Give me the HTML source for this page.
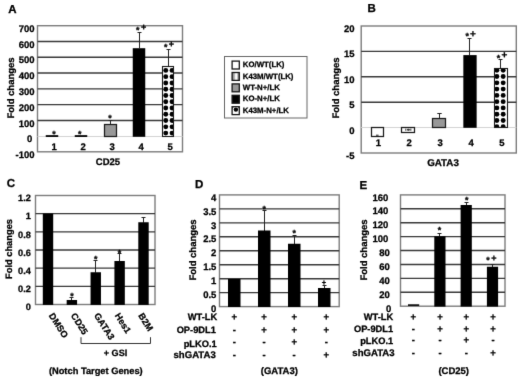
<!DOCTYPE html>
<html><head><meta charset="utf-8"><title>Figure</title>
<style>
html,body{margin:0;padding:0;background:#fff;}
body{width:520px;height:380px;overflow:hidden;}
svg{display:block;font-family:"Liberation Sans",sans-serif;font-weight:bold;fill:#000;text-rendering:geometricPrecision;}
text{stroke:#000;stroke-width:0.28px;}
</style></head><body>
<svg width="520" height="380" viewBox="0 0 520 380">
<defs>
<pattern id="dots" width="5.5" height="5.3" patternUnits="userSpaceOnUse" x="0" y="0">
<rect width="5.5" height="5.3" fill="#fff"/><circle cx="2.75" cy="2.65" r="2.1" fill="#000"/>
</pattern>
<linearGradient id="vgrad" x1="0" x2="1" y1="0" y2="0"><stop offset="0" stop-color="#888"/><stop offset="0.3" stop-color="#aaa"/><stop offset="0.5" stop-color="#fff"/><stop offset="0.68" stop-color="#fff"/><stop offset="0.8" stop-color="#999"/><stop offset="1" stop-color="#888"/></linearGradient>
<pattern id="vstripe" width="4" height="4" patternUnits="userSpaceOnUse">
<rect width="4" height="4" fill="#fff"/><rect x="1" width="1.6" height="4" fill="#555"/>
</pattern>
<filter id="soft" x="0" y="0" width="520" height="380" filterUnits="userSpaceOnUse" color-interpolation-filters="sRGB"><feConvolveMatrix order="3" kernelMatrix="0.0074 0.0713 0.0074 0.0713 0.6853 0.0713 0.0074 0.0713 0.0074" edgeMode="duplicate" preserveAlpha="true"/></filter>
</defs>
<g filter="url(#soft)">
<rect width="520" height="380" fill="#fff"/>
<text x="8.2" y="13" font-size="11.5" text-anchor="start" >A</text>
<rect x="37.5" y="25.7" width="145.0" height="126.10000000000001" fill="#fff" stroke="#7c7c7c" stroke-width="1.4"/>
<line x1="37.5" x2="182.5" y1="41.489999999999995" y2="41.489999999999995" stroke="#383838" stroke-width="1.4"/>
<line x1="37.5" x2="182.5" y1="57.28" y2="57.28" stroke="#383838" stroke-width="1.4"/>
<line x1="37.5" x2="182.5" y1="73.07" y2="73.07" stroke="#383838" stroke-width="1.4"/>
<line x1="37.5" x2="182.5" y1="88.86" y2="88.86" stroke="#383838" stroke-width="1.4"/>
<line x1="37.5" x2="182.5" y1="104.64999999999999" y2="104.64999999999999" stroke="#383838" stroke-width="1.4"/>
<line x1="37.5" x2="182.5" y1="120.44" y2="120.44" stroke="#383838" stroke-width="1.4"/>
<line x1="37.5" x2="182.5" y1="136.5" y2="136.5" stroke="#d4d4d4" stroke-width="1"/>
<text x="34.6" y="31.799999999999997" font-size="9.5" text-anchor="end" >700</text>
<text x="34.6" y="47.589999999999996" font-size="9.5" text-anchor="end" >600</text>
<text x="34.6" y="63.38" font-size="9.5" text-anchor="end" >500</text>
<text x="34.6" y="79.16999999999999" font-size="9.5" text-anchor="end" >400</text>
<text x="34.6" y="94.96" font-size="9.5" text-anchor="end" >300</text>
<text x="34.6" y="110.74999999999999" font-size="9.5" text-anchor="end" >200</text>
<text x="34.6" y="126.53999999999999" font-size="9.5" text-anchor="end" >100</text>
<text x="32.4" y="142.32999999999998" font-size="9.5" text-anchor="end" >0</text>
<text x="34.6" y="158.11999999999998" font-size="9.5" text-anchor="end" >-100</text>
<text transform="translate(13.8,88) rotate(-90)" font-size="9.5" text-anchor="middle">Fold changes</text>
<rect x="45.75" y="135.15" width="12.50" height="1.80" fill="#000"/>
<rect x="74.75" y="135.15" width="12.50" height="1.80" fill="#000"/>
<path d="M110.5 124.1838V120.5M108.5 120.5H112.5" stroke="#222" stroke-width="1" fill="none"/>
<rect x="104.50" y="124.50" width="12.00" height="12.00" fill="#989898" stroke="#1a1a1a" stroke-width="1.25"/>
<path d="M139.5 48.2V32.5M137.5 32.5H141.5" stroke="#222" stroke-width="1" fill="none"/>
<rect x="132.75" y="48.20" width="12.50" height="88.60" fill="#000"/>
<path d="M168.5 66.5V49.5M166.5 49.5H170.5" stroke="#222" stroke-width="1" fill="none"/>
<clipPath id="c1"><rect x="162.00" y="66.00" width="12.00" height="71.00"/></clipPath>
<rect x="162.00" y="66.00" width="12.00" height="71.00" fill="#fff"/>
<g clip-path="url(#c1)" fill="#000">
<circle cx="165.75" cy="70.40" r="2.45"/>
<circle cx="172.05" cy="70.40" r="2.45"/>
<circle cx="165.75" cy="76.67" r="2.45"/>
<circle cx="172.05" cy="76.67" r="2.45"/>
<circle cx="165.75" cy="82.94" r="2.45"/>
<circle cx="172.05" cy="82.94" r="2.45"/>
<circle cx="165.75" cy="89.21" r="2.45"/>
<circle cx="172.05" cy="89.21" r="2.45"/>
<circle cx="165.75" cy="95.48" r="2.45"/>
<circle cx="172.05" cy="95.48" r="2.45"/>
<circle cx="165.75" cy="101.75" r="2.45"/>
<circle cx="172.05" cy="101.75" r="2.45"/>
<circle cx="165.75" cy="108.02" r="2.45"/>
<circle cx="172.05" cy="108.02" r="2.45"/>
<circle cx="165.75" cy="114.29" r="2.45"/>
<circle cx="172.05" cy="114.29" r="2.45"/>
<circle cx="165.75" cy="120.56" r="2.45"/>
<circle cx="172.05" cy="120.56" r="2.45"/>
<circle cx="165.75" cy="126.83" r="2.45"/>
<circle cx="172.05" cy="126.83" r="2.45"/>
<circle cx="165.75" cy="133.10" r="2.45"/>
<circle cx="172.05" cy="133.10" r="2.45"/>
<circle cx="165.75" cy="139.37" r="2.45"/>
<circle cx="172.05" cy="139.37" r="2.45"/>
</g>
<rect x="162.50" y="66.50" width="11.00" height="70.00" fill="none" stroke="#1a1a1a" stroke-width="1.1"/>
<text x="54.1" y="149.7" font-size="9.5" text-anchor="middle" >1</text>
<text x="83.1" y="149.7" font-size="9.5" text-anchor="middle" >2</text>
<text x="112.1" y="149.7" font-size="9.5" text-anchor="middle" >3</text>
<text x="141.1" y="149.7" font-size="9.5" text-anchor="middle" >4</text>
<text x="170.1" y="149.7" font-size="9.5" text-anchor="middle" >5</text>
<text x="108" y="164.6" font-size="9.5" text-anchor="middle" >CD25</text>
<text x="54.04" y="136.99" font-size="8.8" text-anchor="middle" stroke="#000" stroke-width="0.25">*</text>
<text x="79.84" y="136.99" font-size="8.8" text-anchor="middle" stroke="#000" stroke-width="0.25">*</text>
<text x="110.04" y="121.29" font-size="8.8" text-anchor="middle" stroke="#000" stroke-width="0.25">*</text>
<text x="137.74" y="32.79" font-size="8.8" text-anchor="middle" stroke="#000" stroke-width="0.25">*</text>
<text x="143.54" y="29.96" font-size="9" text-anchor="middle" >+</text>
<text x="165.84" y="49.99" font-size="8.8" text-anchor="middle" stroke="#000" stroke-width="0.25">*</text>
<text x="171.34" y="47.26" font-size="9" text-anchor="middle" >+</text>
<rect x="224.5" y="56.5" width="82.5" height="61.5" fill="#fff" stroke="#666" stroke-width="1"/>
<rect x="232.1" y="61.10" width="7.2" height="7.9" fill="#fff" stroke="#161616" stroke-width="1.3"/>
<text x="242.8" y="67.1" font-size="7.8" text-anchor="start" >KO/WT(LK)</text>
<rect x="232.1" y="72.50" width="7.2" height="7.9" fill="url(#vgrad)" stroke="#161616" stroke-width="1.3"/>
<text x="242.8" y="78.5" font-size="7.8" text-anchor="start" >K43M/WT(LK)</text>
<rect x="232.1" y="83.90" width="7.2" height="7.9" fill="#989898" stroke="#161616" stroke-width="1.3"/>
<text x="242.8" y="89.9" font-size="7.8" text-anchor="start" >WT-N+/LK</text>
<rect x="232.1" y="95.30" width="7.2" height="7.9" fill="#000" stroke="#161616" stroke-width="1.3"/>
<text x="242.8" y="101.3" font-size="7.8" text-anchor="start" >KO-N+/LK</text>
<rect x="232.1" y="106.70" width="7.2" height="7.9" fill="#fff"/>
<circle cx="235.9" cy="109.60" r="2.2" fill="#000"/>
<path d="M232.1 107.20h1.6l-1.6 1.8zM239.3 107.20h-1.3l1.3 1.8z" fill="#000"/>
<rect x="232.1" y="106.70" width="7.2" height="7.9" fill="none" stroke="#161616" stroke-width="1.3"/>
<text x="242.8" y="112.7" font-size="7.8" text-anchor="start" >K43M-N+/LK</text>
<text x="367.5" y="12" font-size="11.5" text-anchor="start" >B</text>
<rect x="361.2" y="26" width="155.09999999999997" height="127" fill="#fff" stroke="#7c7c7c" stroke-width="1.4"/>
<line x1="361.2" x2="516.3" y1="51.4" y2="51.4" stroke="#383838" stroke-width="1.4"/>
<line x1="361.2" x2="516.3" y1="76.8" y2="76.8" stroke="#383838" stroke-width="1.4"/>
<line x1="361.2" x2="516.3" y1="102.19999999999999" y2="102.19999999999999" stroke="#383838" stroke-width="1.4"/>
<line x1="361.2" x2="516.3" y1="127.5" y2="127.5" stroke="#d4d4d4" stroke-width="1"/>
<text x="354.5" y="31.9" font-size="9.5" text-anchor="end" >20</text>
<text x="354.5" y="57.3" font-size="9.5" text-anchor="end" >15</text>
<text x="354.5" y="82.7" font-size="9.5" text-anchor="end" >10</text>
<text x="354.5" y="108.1" font-size="9.5" text-anchor="end" >5</text>
<text x="354.5" y="133.5" font-size="9.5" text-anchor="end" >0</text>
<text x="354.5" y="158.9" font-size="9.5" text-anchor="end" >-5</text>
<text transform="translate(339.3,88) rotate(-90)" font-size="9.5" text-anchor="middle">Fold changes</text>
<rect x="371.50" y="127.50" width="12.00" height="9.00" fill="#fff" stroke="#1a1a1a" stroke-width="1.25"/>
<rect x="376.0" y="134.7" width="2.6" height="1" fill="#222"/>
<rect x="401.50" y="127.50" width="13.00" height="5.00" fill="#fff" stroke="#1a1a1a" stroke-width="1.25"/>
<path d="M405.83 128.6v2.2M410.83 128.6v2.2M407.53 129.2h1.8v1h-1.8z" stroke="#333" stroke-width="1" fill="#333"/>
<path d="M439.5 118.5V113.5M437.3 113.5H441.7" stroke="#222" stroke-width="1" fill="none"/>
<rect x="432.50" y="118.50" width="13.00" height="9.00" fill="#989898" stroke="#1a1a1a" stroke-width="1.25"/>
<path d="M469.5 55.1V38.5M467.5 38.5H471.5" stroke="#222" stroke-width="1" fill="none"/>
<rect x="463.34" y="55.10" width="13.30" height="72.70" fill="#000"/>
<path d="M500.5 68.6V59.5M498.5 59.5H502.5" stroke="#222" stroke-width="1" fill="none"/>
<clipPath id="c2"><rect x="494.00" y="68.00" width="14.00" height="60.00"/></clipPath>
<rect x="494.00" y="68.00" width="14.00" height="60.00" fill="#fff"/>
<g clip-path="url(#c2)" fill="#000">
<circle cx="496.87" cy="70.30" r="2.45"/>
<circle cx="503.17" cy="70.30" r="2.45"/>
<circle cx="496.87" cy="76.57" r="2.45"/>
<circle cx="503.17" cy="76.57" r="2.45"/>
<circle cx="496.87" cy="82.84" r="2.45"/>
<circle cx="503.17" cy="82.84" r="2.45"/>
<circle cx="496.87" cy="89.11" r="2.45"/>
<circle cx="503.17" cy="89.11" r="2.45"/>
<circle cx="496.87" cy="95.38" r="2.45"/>
<circle cx="503.17" cy="95.38" r="2.45"/>
<circle cx="496.87" cy="101.65" r="2.45"/>
<circle cx="503.17" cy="101.65" r="2.45"/>
<circle cx="496.87" cy="107.92" r="2.45"/>
<circle cx="503.17" cy="107.92" r="2.45"/>
<circle cx="496.87" cy="114.19" r="2.45"/>
<circle cx="503.17" cy="114.19" r="2.45"/>
<circle cx="496.87" cy="120.46" r="2.45"/>
<circle cx="503.17" cy="120.46" r="2.45"/>
<circle cx="496.87" cy="126.73" r="2.45"/>
<circle cx="503.17" cy="126.73" r="2.45"/>
</g>
<rect x="494.50" y="68.50" width="13.00" height="59.00" fill="none" stroke="#1a1a1a" stroke-width="1.1"/>
<text x="378.3" y="145.8" font-size="9.5" text-anchor="middle" >1</text>
<text x="409.23" y="145.8" font-size="9.5" text-anchor="middle" >2</text>
<text x="440.16" y="145.8" font-size="9.5" text-anchor="middle" >3</text>
<text x="471.09000000000003" y="145.8" font-size="9.5" text-anchor="middle" >4</text>
<text x="502.02" y="145.8" font-size="9.5" text-anchor="middle" >5</text>
<text x="443" y="165.8" font-size="9.8" text-anchor="middle" >GATA3</text>
<text x="467.24" y="39.39" font-size="8.8" text-anchor="middle" stroke="#000" stroke-width="0.25">*</text>
<text x="472.85" y="37.25" font-size="10" text-anchor="middle" >+</text>
<text x="498.54" y="60.69" font-size="8.8" text-anchor="middle" stroke="#000" stroke-width="0.25">*</text>
<text x="504.35" y="58.0" font-size="10" text-anchor="middle" >+</text>
<text x="6.8" y="187" font-size="11.5" text-anchor="start" >C</text>
<rect x="35.5" y="195.5" width="119.5" height="109.0" fill="#fff" stroke="#7c7c7c" stroke-width="1.4"/>
<line x1="35.5" x2="155" y1="213.66666666666666" y2="213.66666666666666" stroke="#383838" stroke-width="1.4"/>
<line x1="35.5" x2="155" y1="231.83333333333334" y2="231.83333333333334" stroke="#383838" stroke-width="1.4"/>
<line x1="35.5" x2="155" y1="250.0" y2="250.0" stroke="#383838" stroke-width="1.4"/>
<line x1="35.5" x2="155" y1="268.1666666666667" y2="268.1666666666667" stroke="#383838" stroke-width="1.4"/>
<line x1="35.5" x2="155" y1="286.33333333333337" y2="286.33333333333337" stroke="#383838" stroke-width="1.4"/>
<text x="30.8" y="201.2" font-size="9.2" text-anchor="end" >1.2</text>
<text x="30.8" y="219.36666666666665" font-size="9.2" text-anchor="end" >1</text>
<text x="30.8" y="237.53333333333333" font-size="9.2" text-anchor="end" >0.8</text>
<text x="30.8" y="255.7" font-size="9.2" text-anchor="end" >0.6</text>
<text x="30.8" y="273.8666666666667" font-size="9.2" text-anchor="end" >0.4</text>
<text x="30.8" y="292.03333333333336" font-size="9.2" text-anchor="end" >0.2</text>
<text x="30.8" y="310.2" font-size="9.2" text-anchor="end" >0</text>
<text transform="translate(11.5,249) rotate(-90)" font-size="9.3" text-anchor="middle">Fold changes</text>
<rect x="42.80" y="213.50" width="10.40" height="91.40" fill="#000"/>
<path d="M71.5 300.5V297.5M69.5 297.5H73.5" stroke="#222" stroke-width="1" fill="none"/>
<rect x="66.67" y="300.00" width="10.40" height="4.90" fill="#000"/>
<path d="M95.5 272.75V260.5M93.5 260.5H97.5" stroke="#222" stroke-width="1" fill="none"/>
<rect x="90.55" y="272.25" width="10.40" height="32.65" fill="#000"/>
<path d="M119.5 261.5V253.5M117.5 253.5H121.5" stroke="#222" stroke-width="1" fill="none"/>
<rect x="114.42" y="261.00" width="10.40" height="43.90" fill="#000"/>
<path d="M143.5 222.75V217.5M141.5 217.5H145.5" stroke="#222" stroke-width="1" fill="none"/>
<rect x="138.30" y="222.25" width="10.40" height="82.65" fill="#000"/>
<text x="72.04" y="298.74" font-size="8.8" text-anchor="middle" stroke="#000" stroke-width="0.25">*</text>
<text x="95.79" y="261.74" font-size="8.8" text-anchor="middle" stroke="#000" stroke-width="0.25">*</text>
<text x="119.54" y="255.99" font-size="8.8" text-anchor="middle" stroke="#000" stroke-width="0.25">*</text>
<text transform="translate(48.599999999999994,315.6) rotate(57.5)" font-size="9.1">DMSO</text>
<text transform="translate(70.6,315.6) rotate(57.5)" font-size="9.1">CD25</text>
<text transform="translate(93.8,315.6) rotate(57.5)" font-size="9.1">GATA3</text>
<text transform="translate(114.5,315.6) rotate(57.5)" font-size="9.1">Hes1</text>
<text transform="translate(137.9,315.6) rotate(57.5)" font-size="9.1">B2M</text>
<path d="M81 337.2V343.5H150.5V337.2" stroke="#333" stroke-width="1" fill="none"/>
<text x="127.3" y="356.2" font-size="9.1" text-anchor="end" >+ GSI</text>
<text x="95.8" y="374.1" font-size="9.3" text-anchor="middle" >(Notch Target Genes)</text>
<text x="195" y="187.7" font-size="11.5" text-anchor="start" >D</text>
<rect x="219.5" y="194.9" width="119.69999999999999" height="111.70000000000002" fill="#fff" stroke="#7c7c7c" stroke-width="1.4"/>
<line x1="219.5" x2="339.2" y1="208.8625" y2="208.8625" stroke="#383838" stroke-width="1.4"/>
<line x1="219.5" x2="339.2" y1="222.82500000000002" y2="222.82500000000002" stroke="#383838" stroke-width="1.4"/>
<line x1="219.5" x2="339.2" y1="236.78750000000002" y2="236.78750000000002" stroke="#383838" stroke-width="1.4"/>
<line x1="219.5" x2="339.2" y1="250.75" y2="250.75" stroke="#383838" stroke-width="1.4"/>
<line x1="219.5" x2="339.2" y1="264.71250000000003" y2="264.71250000000003" stroke="#383838" stroke-width="1.4"/>
<line x1="219.5" x2="339.2" y1="278.675" y2="278.675" stroke="#383838" stroke-width="1.4"/>
<line x1="219.5" x2="339.2" y1="292.63750000000005" y2="292.63750000000005" stroke="#383838" stroke-width="1.4"/>
<text x="216.4" y="200.6" font-size="9.5" text-anchor="end" >4</text>
<text x="216.4" y="214.5625" font-size="9.5" text-anchor="end" >3.5</text>
<text x="216.4" y="228.525" font-size="9.5" text-anchor="end" >3</text>
<text x="216.4" y="242.4875" font-size="9.5" text-anchor="end" >2.5</text>
<text x="216.4" y="256.45" font-size="9.5" text-anchor="end" >2</text>
<text x="216.4" y="270.4125" font-size="9.5" text-anchor="end" >1.5</text>
<text x="216.4" y="284.375" font-size="9.5" text-anchor="end" >1</text>
<text x="216.4" y="298.33750000000003" font-size="9.5" text-anchor="end" >0.5</text>
<text x="216.4" y="312.3" font-size="9.5" text-anchor="end" >0</text>
<text transform="translate(196.3,250) rotate(-90)" font-size="9.5" text-anchor="middle">Fold changes</text>
<rect x="228.00" y="279.00" width="12.50" height="28.00" fill="#000"/>
<path d="M264.5 231.0V210.5M262.5 210.5H266.5" stroke="#222" stroke-width="1" fill="none"/>
<rect x="258.00" y="230.50" width="12.50" height="76.50" fill="#000"/>
<path d="M294.5 244.25V235.5M292.5 235.5H296.5" stroke="#222" stroke-width="1" fill="none"/>
<rect x="288.00" y="243.75" width="12.50" height="63.25" fill="#000"/>
<path d="M324.5 288.5V285.5M322.5 285.5H326.5" stroke="#222" stroke-width="1" fill="none"/>
<rect x="318.00" y="288.00" width="12.50" height="19.00" fill="#000"/>
<text x="264.29" y="211.79" font-size="8.8" text-anchor="middle" stroke="#000" stroke-width="0.25">*</text>
<text x="294.29" y="235.99" font-size="8.8" text-anchor="middle" stroke="#000" stroke-width="0.25">*</text>
<text x="323.94" y="284.55" font-size="7.5" text-anchor="middle" >+</text>
<text x="217.2" y="320.3" font-size="9.3" text-anchor="end" >WT-LK</text>
<text x="234.29999999999998" y="320.1" font-size="9.5" text-anchor="middle" >+</text>
<text x="264.0" y="320.1" font-size="9.5" text-anchor="middle" >+</text>
<text x="294.2" y="320.1" font-size="9.5" text-anchor="middle" >+</text>
<text x="326.4" y="320.1" font-size="9.5" text-anchor="middle" >+</text>
<text x="215.9" y="333.4" font-size="9.3" text-anchor="end" >OP-9DL1</text>
<text x="234.29999999999998" y="333.2" font-size="9.5" text-anchor="middle" >-</text>
<text x="264.0" y="333.2" font-size="9.5" text-anchor="middle" >+</text>
<text x="294.2" y="333.2" font-size="9.5" text-anchor="middle" >+</text>
<text x="326.4" y="333.2" font-size="9.5" text-anchor="middle" >+</text>
<text x="216.7" y="346.7" font-size="9.3" text-anchor="end" >pLKO.1</text>
<text x="234.29999999999998" y="345.2" font-size="9.5" text-anchor="middle" >-</text>
<text x="264.0" y="345.2" font-size="9.5" text-anchor="middle" >-</text>
<text x="294.2" y="345.2" font-size="9.5" text-anchor="middle" >+</text>
<text x="326.4" y="345.2" font-size="9.5" text-anchor="middle" >-</text>
<text x="215.8" y="358.2" font-size="9.6" text-anchor="end" >shGATA3</text>
<text x="234.29999999999998" y="358.0" font-size="9.5" text-anchor="middle" >-</text>
<text x="264.0" y="358.0" font-size="9.5" text-anchor="middle" >-</text>
<text x="294.2" y="358.0" font-size="9.5" text-anchor="middle" >-</text>
<text x="326.4" y="358.0" font-size="9.5" text-anchor="middle" >+</text>
<text x="279.3" y="374.3" font-size="9.5" text-anchor="middle" >(GATA3)</text>
<text x="359.5" y="189" font-size="11.5" text-anchor="start" >E</text>
<rect x="400.5" y="194.9" width="104.5" height="111.29999999999998" fill="#fff" stroke="#7c7c7c" stroke-width="1.4"/>
<line x1="400.5" x2="505" y1="208.8125" y2="208.8125" stroke="#383838" stroke-width="1.4"/>
<line x1="400.5" x2="505" y1="222.725" y2="222.725" stroke="#383838" stroke-width="1.4"/>
<line x1="400.5" x2="505" y1="236.6375" y2="236.6375" stroke="#383838" stroke-width="1.4"/>
<line x1="400.5" x2="505" y1="250.55" y2="250.55" stroke="#383838" stroke-width="1.4"/>
<line x1="400.5" x2="505" y1="264.4625" y2="264.4625" stroke="#383838" stroke-width="1.4"/>
<line x1="400.5" x2="505" y1="278.375" y2="278.375" stroke="#383838" stroke-width="1.4"/>
<line x1="400.5" x2="505" y1="292.2875" y2="292.2875" stroke="#383838" stroke-width="1.4"/>
<text x="388.3" y="200.5" font-size="9.5" text-anchor="end" >160</text>
<text x="388.3" y="214.4125" font-size="9.5" text-anchor="end" >140</text>
<text x="388.3" y="228.325" font-size="9.5" text-anchor="end" >120</text>
<text x="388.3" y="242.23749999999998" font-size="9.5" text-anchor="end" >100</text>
<text x="389.8" y="256.15000000000003" font-size="9.5" text-anchor="end" >80</text>
<text x="389.8" y="270.0625" font-size="9.5" text-anchor="end" >60</text>
<text x="389.8" y="283.975" font-size="9.5" text-anchor="end" >40</text>
<text x="389.8" y="297.88750000000005" font-size="9.5" text-anchor="end" >20</text>
<text x="391.4" y="311.8" font-size="9.5" text-anchor="end" >0</text>
<text transform="translate(367,250) rotate(-90)" font-size="9.5" text-anchor="middle">Fold changes</text>
<rect x="408.00" y="304.30" width="11.20" height="1.60" fill="#000"/>
<path d="M439.5 236.75V233.5M437.5 233.5H441.5" stroke="#222" stroke-width="1" fill="none"/>
<rect x="434.30" y="236.25" width="11.20" height="70.35" fill="#000"/>
<path d="M466.5 205.5V202.5M464.5 202.5H468.5" stroke="#222" stroke-width="1" fill="none"/>
<rect x="460.60" y="205.00" width="11.20" height="101.60" fill="#000"/>
<path d="M492.5 267.25V264.5M490.5 264.5H494.5" stroke="#222" stroke-width="1" fill="none"/>
<rect x="486.90" y="266.75" width="11.20" height="39.85" fill="#000"/>
<text x="439.54" y="233.24" font-size="8.8" text-anchor="middle" stroke="#000" stroke-width="0.25">*</text>
<text x="466.79" y="203.24" font-size="8.8" text-anchor="middle" stroke="#000" stroke-width="0.25">*</text>
<text x="488.04" y="263.24" font-size="8.8" text-anchor="middle" stroke="#000" stroke-width="0.25">*</text>
<text x="493.8" y="260.56" font-size="9" text-anchor="middle" >+</text>
<text x="393.2" y="320.0" font-size="9.3" text-anchor="end" >WT-LK</text>
<text x="413.3" y="319.5" font-size="9.5" text-anchor="middle" >+</text>
<text x="440" y="319.5" font-size="9.5" text-anchor="middle" >+</text>
<text x="466.3" y="319.5" font-size="9.5" text-anchor="middle" >+</text>
<text x="493" y="319.5" font-size="9.5" text-anchor="middle" >+</text>
<text x="393.2" y="332.2" font-size="9.3" text-anchor="end" >OP-9DL1</text>
<text x="413.3" y="331.7" font-size="9.5" text-anchor="middle" >-</text>
<text x="440" y="331.7" font-size="9.5" text-anchor="middle" >+</text>
<text x="466.3" y="331.7" font-size="9.5" text-anchor="middle" >+</text>
<text x="493" y="331.7" font-size="9.5" text-anchor="middle" >+</text>
<text x="393.2" y="343.5" font-size="9.3" text-anchor="end" >pLKO.1</text>
<text x="413.3" y="343.0" font-size="9.5" text-anchor="middle" >-</text>
<text x="440" y="343.0" font-size="9.5" text-anchor="middle" >-</text>
<text x="466.3" y="343.0" font-size="9.5" text-anchor="middle" >+</text>
<text x="493" y="343.0" font-size="9.5" text-anchor="middle" >-</text>
<text x="394.6" y="356.0" font-size="9.6" text-anchor="end" >shGATA3</text>
<text x="413.3" y="355.5" font-size="9.5" text-anchor="middle" >-</text>
<text x="440" y="355.5" font-size="9.5" text-anchor="middle" >-</text>
<text x="466.3" y="355.5" font-size="9.5" text-anchor="middle" >-</text>
<text x="493" y="355.5" font-size="9.5" text-anchor="middle" >+</text>
<text x="453.7" y="374" font-size="9.5" text-anchor="middle" >(CD25)</text>
</g>
</svg>
</body></html>
